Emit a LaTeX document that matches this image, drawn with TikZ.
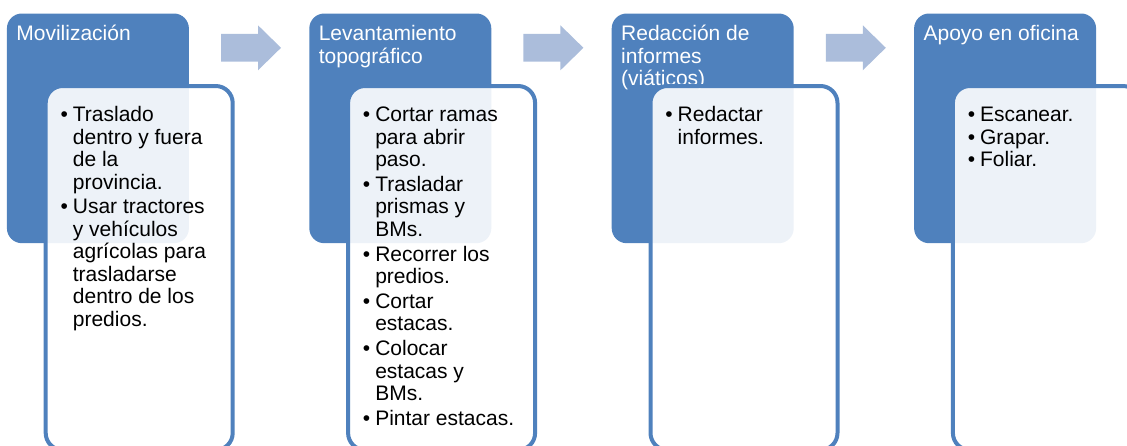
\documentclass[tikz,border=0pt]{standalone}
\usepackage{fontspec}
\setmainfont{Liberation Sans}
\definecolor{hdrblue}{HTML}{4F81BD}
\definecolor{arrowblue}{HTML}{ABBDDB}
\newcommand{\itm}{\llap{\textbullet\hspace{5pt}}}
\newcommand{\topstrut}{\rule{0pt}{18pt}}
\begin{document}
\begin{tikzpicture}[x=1pt,y=-1pt,
  hdr/.style={draw=none, fill=hdrblue, rounded corners=15pt, inner sep=0pt,
    minimum width=182pt, minimum height=229.7pt, anchor=north west},
  inbox/.style={draw=hdrblue, line width=4pt, fill=white, fill opacity=0.9,
    rounded corners=17pt, inner sep=0pt,
    minimum width=187pt, minimum height=364pt, anchor=north west},
  hdrtext/.style={text=white, align=left, inner sep=0pt, anchor=north west,
    font=\fontsize{21}{22.3}\selectfont},
  itemtext/.style={text=black, align=left, inner sep=0pt, anchor=north west,
    font=\fontsize{21}{22.5}\selectfont},
  flowarrow/.style={fill=arrowblue, draw=none}]
\useasboundingbox (0,0) rectangle (1127,445);
\clip (0,0) rectangle (1127,445);

% Column 1
\node[hdr] (h1) at (6.7,13.3) {};
\node[hdrtext] (t1) at (16.2,22.5) {\topstrut Movilización};
\node[inbox] (b1) at (43.7,84) {};
\node[itemtext] (l1) at (72.7,103.5) {\topstrut\itm Traslado\\ dentro y fuera\\ de la\\ provincia.\\[2.2pt]
  \itm Usar tractores\\ y vehículos\\ agrícolas para\\ trasladarse\\ dentro de los\\ predios.};

% Column 2
\node[hdr] (h2) at (309.1,13.3) {};
\node[hdrtext] (t2) at (318.6,22.5) {\topstrut Levantamiento\\ topográfico};
\node[inbox] (b2) at (346.1,84) {};
\node[itemtext] (l2) at (375.1,103.5) {\topstrut\itm Cortar ramas\\ para abrir\\ paso.\\[2.2pt]
  \itm Trasladar\\ prismas y\\ BMs.\\[2.2pt]
  \itm Recorrer los\\ predios.\\[2.2pt]
  \itm Cortar\\ estacas.\\[2.2pt]
  \itm Colocar\\ estacas y\\ BMs.\\[2.2pt]
  \itm Pintar estacas.};

% Column 3
\node[hdr] (h3) at (611.5,13.3) {};
\node[hdrtext] (t3) at (621,22.5) {\topstrut Redacción de\\ informes\\ (viáticos)};
\node[inbox] (b3) at (648.5,84) {};
\node[itemtext] (l3) at (677.5,103.5) {\topstrut\itm Redactar\\ informes.};

% Column 4
\node[hdr] (h4) at (913.9,13.3) {};
\node[hdrtext] (t4) at (923.4,22.5) {\topstrut Apoyo en oficina};
\node[inbox] (b4) at (950.9,84) {};
\node[itemtext] (l4) at (979.9,103.5) {\topstrut\itm Escanear.\\ \itm Grapar.\\ \itm Foliar.};

% Arrows between headers
\coordinate (a1) at (221,47.8);
\coordinate (a2) at (523.4,47.8);
\coordinate (a3) at (825.8,47.8);
\foreach \a in {a1,a2,a3}{
  \fill[flowarrow] (\a) ++(0,-13.85) -- ++(37,0) -- ++(0,-8.65) -- ++(23,22.5)
    -- ++(-23,22.5) -- ++(0,-8.65) -- ++(-37,0) -- cycle;
}
\end{tikzpicture}
\end{document}
